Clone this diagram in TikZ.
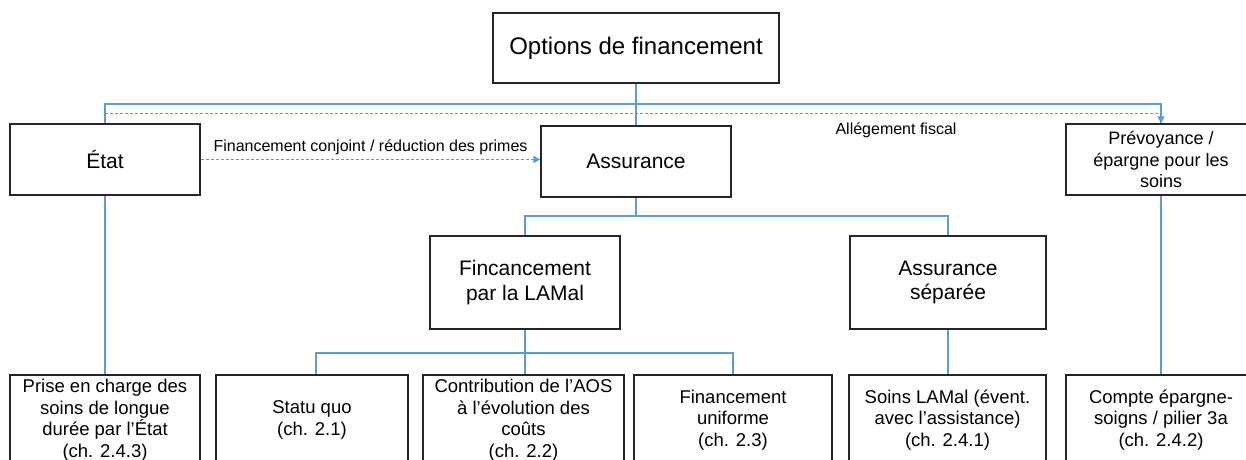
\documentclass[tikz,border=0pt]{standalone}
\usepackage{fontspec}
\setmainfont{Liberation Sans}
\usetikzlibrary{arrows.meta}
\definecolor{lineblue}{RGB}{91,155,213}
\definecolor{boxgray}{RGB}{38,38,38}
\begin{document}
\begin{tikzpicture}[x=1pt,y=-1pt,
  box/.style={draw=boxgray, line width=1.2pt, fill=white, inner sep=0pt, align=center, font=\fontsize{18.5}{21.5}\selectfont},
  midbox/.style={box, font=\fontsize{21}{24.5}\selectfont},
  conn/.style={draw=lineblue, line width=1.3pt},
  dconn/.style={draw=lineblue, line width=1.2pt, dash pattern=on 3pt off 2pt},
  tip/.style={-{Triangle[length=7pt,width=7pt]}},
  lbl/.style={font=\fontsize{16}{19}\selectfont, inner sep=0pt}]
\useasboundingbox (0,0) rectangle (1246,459);
\clip (0,0) rectangle (1246,459);
\fill[white] (0,0) rectangle (1246,459);
% nodes
\node[box, minimum width=286pt, minimum height=70pt, font=\fontsize{24}{28}\selectfont] (top) at (636,48) {Options de financement};
\node[midbox, minimum width=190pt, minimum height=71pt] (etat) at (105,159.5) {État};
\node[midbox, minimum width=190pt, minimum height=71pt] (assur) at (636,161.5) {Assurance};
\node[box, minimum width=190pt, minimum height=71pt, font=\fontsize{18}{21.5}\selectfont] (prev) at (1161,159.5) {Prévoyance /\\épargne pour les\\soins};
\node[midbox, minimum width=190pt, minimum height=93pt] (finc) at (525,282.5) {Fincancement\\par la LAMal};
\node[midbox, minimum width=196pt, minimum height=93pt] (sep) at (948,282.5) {Assurance\\séparée};
\node[box, minimum width=190pt, minimum height=90pt] (prise) at (105,420) {Prise en charge des\\soins de longue\\durée par l’État\\(ch. 2.4.3)};
\node[box, minimum width=192pt, minimum height=90pt] (statu) at (312,420) {Statu quo\\(ch. 2.1)};
\node[box, minimum width=201pt, minimum height=90pt] (contrib) at (523.5,420) {Contribution de l’AOS\\à l’évolution des\\coûts\\(ch. 2.2)};
\node[box, minimum width=198pt, minimum height=90pt] (unif) at (733,420) {Financement\\uniforme\\(ch. 2.3)};
\node[box, minimum width=197pt, minimum height=90pt] (soins) at (947.5,420) {Soins LAMal (évent.\\avec l’assistance)\\(ch. 2.4.1)};
\node[box, minimum width=190pt, minimum height=90pt] (compte) at (1161,420) {Compte épargne-\\soigns / pilier 3a\\(ch. 2.4.2)};
\node[lbl] (allg) at (896,130) {Allégement fiscal};
% connectors
\coordinate (j1) at (636,104);
\coordinate (j2) at (636,216);
\coordinate (j3) at (525,353);
\draw[conn] (top.south) -- (assur.north);
\draw[conn] (j1) -| (etat.north);
\draw[conn] (j1) -| (prev.north);
\draw[dconn, tip] (etat.north) -- ++(0,-10) -| (prev.north);
\draw[dconn, tip] (etat.east) -- (etat.east -| assur.west)
  node[lbl, midway, yshift=12pt] {Financement conjoint / réduction des primes};
\draw[conn] (assur.south) -- (j2) -| (finc.north);
\draw[conn] (j2) -| (sep.north);
\draw[conn] (finc.south) -- (finc.south |- contrib.north);
\draw[conn] (j3) -| ([xshift=4pt]statu.north);
\draw[conn] (j3) -| (unif.north);
\draw[conn] (sep.south) -- (sep.south |- soins.north);
\draw[conn] (etat.south) -- (prise.north);
\draw[conn] (prev.south) -- (compte.north);
\end{tikzpicture}
\end{document}
